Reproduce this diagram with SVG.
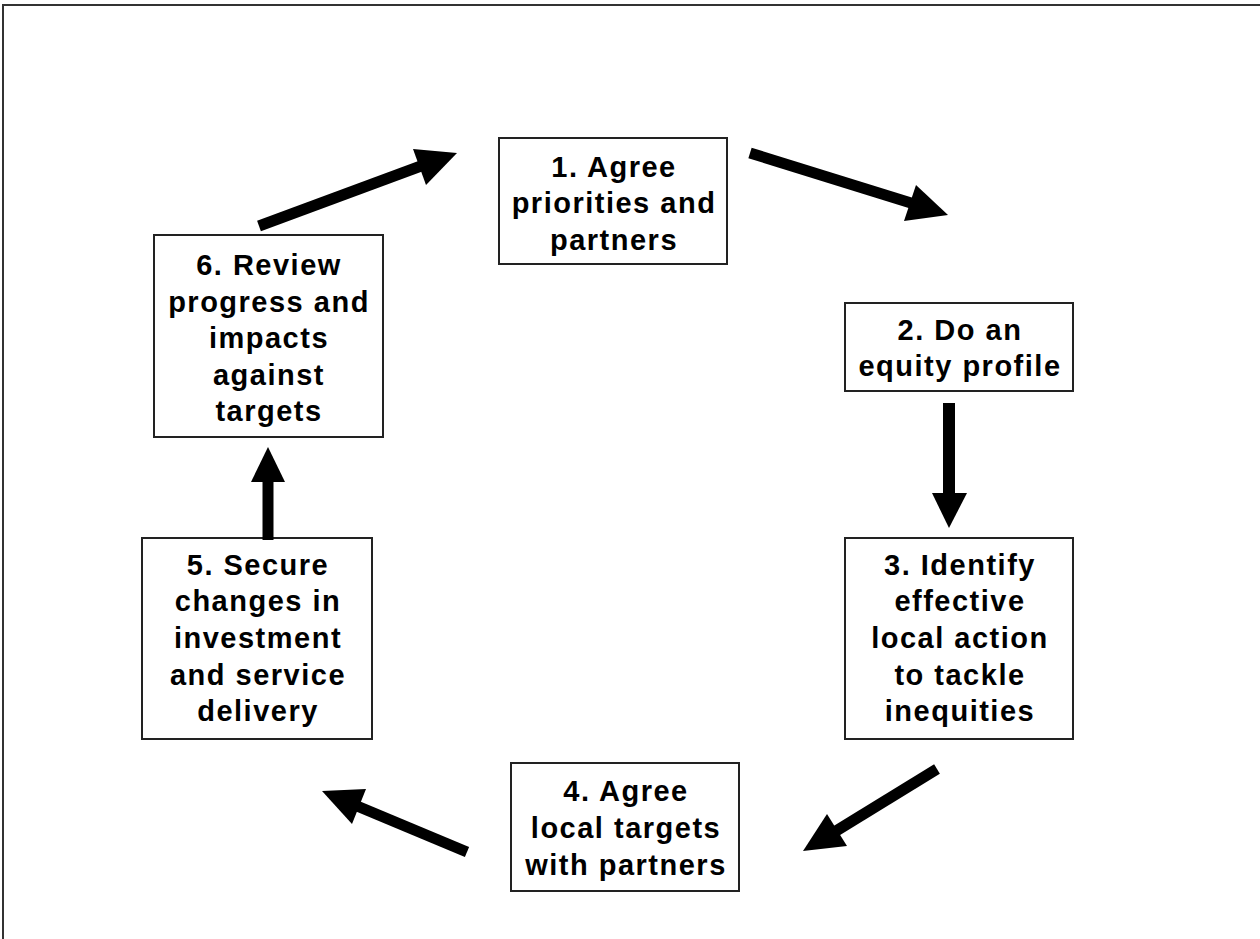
<svg xmlns="http://www.w3.org/2000/svg" width="1260" height="939" viewBox="0 0 1260 939">
<style>
.box{fill:#fff;stroke:#222;stroke-width:2}
.t{font-family:"Liberation Sans",Arial,sans-serif;font-weight:bold;font-size:29px;letter-spacing:1.5px;fill:#000;text-anchor:middle}
.shaft{stroke:#000;stroke-width:11;fill:none}
.head{fill:#000}
</style>
<rect width="1260" height="939" fill="#fff"/>
<path d="M3,939 V5 H1260" fill="none" stroke="#333" stroke-width="2"/>
<g id="n1"><rect class="box" x="499" y="138" width="228" height="126"/>
<text class="t"><tspan x="614" y="177">1. Agree</tspan><tspan x="614" y="213">priorities and</tspan><tspan x="614" y="250">partners</tspan></text></g>
<g id="n2"><rect class="box" x="845" y="303" width="228" height="88"/>
<text class="t"><tspan x="960" y="340">2. Do an</tspan><tspan x="960" y="376">equity profile</tspan></text></g>
<g id="n3"><rect class="box" x="845" y="538" width="228" height="201"/>
<text class="t"><tspan x="960" y="575">3. Identify</tspan><tspan x="960" y="611">effective</tspan><tspan x="960" y="648">local action</tspan><tspan x="960" y="685">to tackle</tspan><tspan x="960" y="721">inequities</tspan></text></g>
<g id="n4"><rect class="box" x="511" y="763" width="228" height="128"/>
<text class="t"><tspan x="626" y="801">4. Agree</tspan><tspan x="626" y="838">local targets</tspan><tspan x="626" y="875">with partners</tspan></text></g>
<g id="n5"><rect class="box" x="142" y="538" width="230" height="201"/>
<text class="t"><tspan x="258" y="575">5. Secure</tspan><tspan x="258" y="611">changes in</tspan><tspan x="258" y="648">investment</tspan><tspan x="258" y="685">and service</tspan><tspan x="258" y="721">delivery</tspan></text></g>
<g id="n6"><rect class="box" x="154" y="235" width="229" height="202"/>
<text class="t"><tspan x="269" y="275">6. Review</tspan><tspan x="269" y="312">progress and</tspan><tspan x="269" y="348">impacts</tspan><tspan x="269" y="385">against</tspan><tspan x="269" y="421">targets</tspan></text></g>
<g id="connectors">
<line class="shaft" x1="259" y1="226" x2="421" y2="166"/><polygon class="head" points="457,153 426,185 413,149"/>
<line class="shaft" x1="750" y1="153" x2="911" y2="203"/><polygon class="head" points="948,215 904,221 916,185"/>
<line class="shaft" x1="949" y1="403" x2="949" y2="495" style="stroke-width:12"/><polygon class="head" points="932,493 967,493 949,528"/>
<line class="shaft" x1="937" y1="769" x2="836" y2="831"/><polygon class="head" points="803,851 827,814 847,846"/>
<line class="shaft" x1="467" y1="852" x2="357" y2="806"/><polygon class="head" points="322,791 366,789 352,824"/>
<line class="shaft" x1="268" y1="540" x2="268" y2="480"/><polygon class="head" points="251,482 285,482 268,447"/>
</g>
</svg>
